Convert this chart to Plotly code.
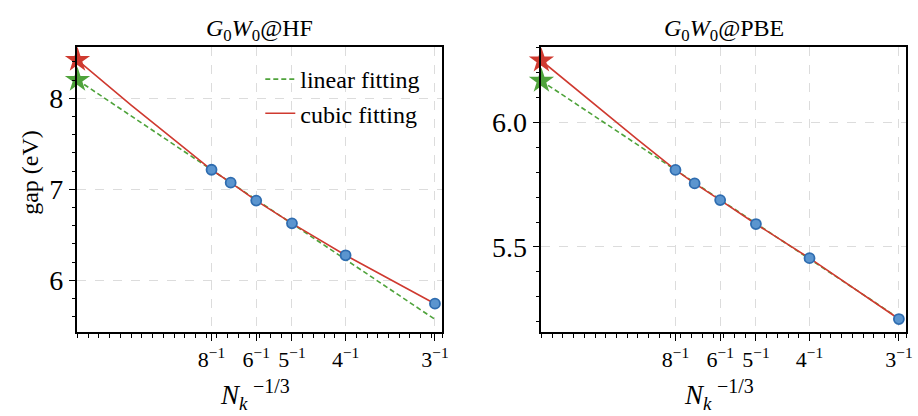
import plotly.graph_objects as go

# ---- data ----
x_points = [1/8, 1/7, 1/6, 1/5, 1/4, 1/3]
hf_gap = [7.215, 7.073, 6.876, 6.626, 6.275, 5.743]
pbe_gap = [5.809, 5.755, 5.688, 5.592, 5.455, 5.211]

x_linear = [0.0, 1/3]
hf_linear = [8.201, 5.571]
pbe_linear = [6.166, 5.214]

x_cubic = [0.0, 0.05, 0.09, 1/8, 1/7, 1/6, 1/5, 1/4, 1/3]
hf_cubic = [8.421, 7.925, 7.545, 7.215, 7.073, 6.876, 6.626, 6.275, 5.743]
pbe_cubic = [6.247, 6.070, 5.930, 5.809, 5.755, 5.688, 5.592, 5.455, 5.211]

hf_extrap = {"linear": 8.201, "cubic": 8.421}
pbe_extrap = {"linear": 6.166, "cubic": 6.247}

x_tickvals = [1/8, 1/6, 1/5, 1/4, 1/3]
x_ticktext = ["8<sup>−1</sup>", "6<sup>−1</sup>", "5<sup>−1</sup>", "4<sup>−1</sup>", "3<sup>−1</sup>"]

titles = ["<i>G</i><sub>0</sub><i>W</i><sub>0</sub>@HF", "<i>G</i><sub>0</sub><i>W</i><sub>0</sub>@PBE"]

GREEN = "#4fa33b"
RED = "#cf3a30"
BLUE_FILL = "#5b95cf"
BLUE_EDGE = "#2f6db0"
FONT = "Liberation Serif, Times New Roman, Times, serif"

fig = go.Figure()

panels = [
    (hf_linear, hf_cubic, hf_gap, hf_extrap, "x", "y"),
    (pbe_linear, pbe_cubic, pbe_gap, pbe_extrap, "x2", "y2"),
]

for i, (lin, cub, pts, ext, xa, ya) in enumerate(panels):
    show = i == 0
    fig.add_trace(go.Scatter(x=x_linear, y=lin, mode="lines", name="linear fitting",
                             line=dict(color=GREEN, width=1.6, dash="5px,3px"),
                             xaxis=xa, yaxis=ya, showlegend=show, legendgroup="lin"))
    fig.add_trace(go.Scatter(x=x_cubic, y=cub, mode="lines", name="cubic fitting",
                             line=dict(color=RED, width=1.6),
                             xaxis=xa, yaxis=ya, showlegend=show, legendgroup="cub"))
    fig.add_trace(go.Scatter(x=x_points, y=pts, mode="markers", showlegend=False,
                             marker=dict(size=10, color=BLUE_FILL, line=dict(color=BLUE_EDGE, width=1.8)),
                             xaxis=xa, yaxis=ya))
    fig.add_trace(go.Scatter(x=[0.0], y=[ext["linear"]], mode="markers", showlegend=False,
                             marker=dict(symbol="star", size=19, color=GREEN, line=dict(width=0)),
                             cliponaxis=False, xaxis=xa, yaxis=ya))
    fig.add_trace(go.Scatter(x=[0.0], y=[ext["cubic"]], mode="markers", showlegend=False,
                             marker=dict(symbol="star", size=19, color=RED, line=dict(width=0)),
                             cliponaxis=False, xaxis=xa, yaxis=ya))

W, H = 918, 416
ytop = 1 - 47 / H
ybot = 1 - 332 / H
dom1 = [78 / W, 445 / W]
dom2 = [545 / W, 912 / W]

xcommon = dict(range=[0, 0.34], tickvals=x_tickvals, ticktext=x_ticktext,
               showline=True, linecolor="black", linewidth=1.5, mirror=True,
               ticks="outside", ticklen=7, tickwidth=1.2, tickcolor="black",
               showgrid=True, gridcolor="#dcdcdc", griddash="dash", gridwidth=1,
               zeroline=False, tickfont=dict(size=22, family=FONT, color="black"),
               minor=dict(dtick=0.01, tick0=0, ticks="outside", ticklen=4, tickwidth=1, tickcolor="black", showgrid=False))
ycommon = dict(showline=True, linecolor="black", linewidth=1.5, mirror=True,
               ticks="outside", ticklen=7, tickwidth=1.2, tickcolor="black",
               showgrid=True, gridcolor="#dcdcdc", griddash="dash", gridwidth=1,
               zeroline=False, tickfont=dict(size=28, family=FONT, color="black"))

fig.update_layout(
    width=W, height=H,
    margin=dict(l=0, r=0, t=0, b=0),
    paper_bgcolor="white", plot_bgcolor="white",
    font=dict(family=FONT, color="black"),
    xaxis=dict(domain=dom1, anchor="y", **xcommon),
    yaxis=dict(domain=[ybot, ytop], anchor="x", range=[5.432, 8.564], dtick=1, tick0=0,
               minor=dict(dtick=0.2, tick0=0, ticks="outside", ticklen=4, tickwidth=1, tickcolor="black", showgrid=False),
               **ycommon),
    xaxis2=dict(domain=dom2, anchor="y2", **xcommon),
    yaxis2=dict(domain=[ybot, ytop], anchor="x2", range=[5.159, 6.302], dtick=0.5, tick0=0, tickformat=".1f",
                minor=dict(dtick=0.1, tick0=0, ticks="outside", ticklen=4, tickwidth=1, tickcolor="black", showgrid=False),
                **ycommon),
    legend=dict(x=262 / W, y=1 - 57 / H, xanchor="left", yanchor="top",
                bgcolor="rgba(255,255,255,0)", font=dict(size=24, family=FONT, color="black"),
                tracegroupgap=0, traceorder="grouped"),
    showlegend=True,
)

anns = []
for i, t in enumerate(titles):
    dom = dom1 if i == 0 else dom2
    off = 0 if i == 0 else 467
    cx = (dom[0] + dom[1]) / 2
    anns.append(dict(text=t, x=cx, y=1 - 30 / H, xref="paper", yref="paper",
                     xanchor="center", yanchor="middle", showarrow=False,
                     font=dict(size=24, family=FONT, color="black")))
    # x-axis label: N_k followed by raised superscript -1/3
    anns.append(dict(text="<i>N</i><sub><i>k</i></sub>", x=(252 + off) / W, y=1 - 397 / H,
                     xref="paper", yref="paper", xanchor="right", yanchor="middle",
                     showarrow=False, font=dict(size=27, family=FONT, color="black")))
    anns.append(dict(text="−1/3", x=(253 + off) / W, y=1 - 386 / H,
                     xref="paper", yref="paper", xanchor="left", yanchor="middle",
                     showarrow=False, font=dict(size=20, family=FONT, color="black")))
anns.append(dict(text="gap (eV)", x=30 / W, y=1 - 172 / H, xref="paper", yref="paper",
                 xanchor="center", yanchor="middle", textangle=-90, showarrow=False,
                 font=dict(size=24, family=FONT, color="black")))
fig.update_layout(annotations=anns)

fig.write_html("out.html")
